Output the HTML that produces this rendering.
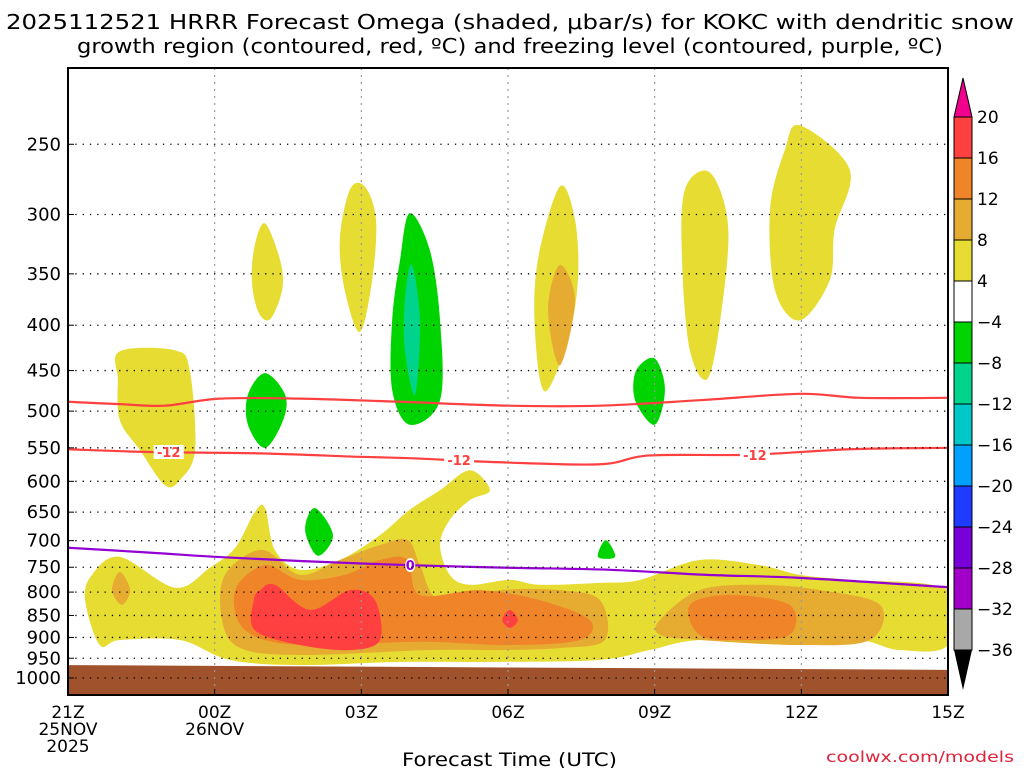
<!DOCTYPE html>
<html><head><meta charset="utf-8">
<style>
body{margin:0;background:#fff;width:1024px;height:768px;overflow:hidden;font-family:"DejaVu Sans","Liberation Sans",sans-serif;}
svg text{font-family:"DejaVu Sans","Liberation Sans",sans-serif;}
</style></head>
<body>
<svg id="chart" width="1024" height="768" xmlns="http://www.w3.org/2000/svg">
<text x="6" y="29" textLength="1008" lengthAdjust="spacingAndGlyphs" font-size="20" fill="#000">2025112521 HRRR Forecast Omega (shaded, μbar/s) for KOKC with dendritic snow</text>
<text x="77" y="53" textLength="866" lengthAdjust="spacingAndGlyphs" font-size="20" fill="#000">growth region (contoured, red, ºC) and freezing level (contoured, purple, ºC)</text>
<g id="plot"></g>
<g id="cbar"></g>
<text x="402" y="766" textLength="215" lengthAdjust="spacingAndGlyphs" font-size="19" fill="#000">Forecast Time (UTC)</text>
<text x="826" y="762" textLength="188" lengthAdjust="spacingAndGlyphs" font-size="15" fill="#e0223a">coolwx.com/models</text>
</svg>
<script>
const hourTicks=[0,3,6,9,12,15,18];
const hourLabels=[["21Z","25NOV","2025"],["00Z","26NOV"],["03Z"],["06Z"],["09Z"],["12Z"],["15Z"]];
const pTicks=[250,300,350,400,450,500,550,600,650,700,750,800,850,900,950,1000];
const cbLevels=["20","16","12","8","4","−4","−8","−12","−16","−20","−24","−28","−32","−36"];
const cbColors=["#ff4040","#f08428","#e6ac32","#e6dc32","#ffffff","#00d400","#00d48c","#00c8c8","#00a0ff","#1e3cff","#7800d8","#a000c8","#a8a8a8"];
const ground=[[0,967],[18,979]];
const yellowMain=[[0.49,765],[1.06,730],[2.19,791],[2.9,751],[3.42,713],[3.82,650],[4.03,643],[4.23,717],[4.74,755],[5.56,736],[6.38,690],[6.99,646],[7.61,614],[8.22,583],[8.63,614],[8.22,630],[7.81,663],[7.61,708],[7.81,765],[8.22,785],[9.04,775],[9.65,785],[10.88,781],[11.7,775],[12.92,736],[14.15,746],[14.97,765],[15.99,775],[18,796],[18,918],[17.01,930],[16.2,906],[14.97,906],[12.92,906],[11.9,930],[10.88,954],[8.83,959],[6.79,959],[4.74,967],[3.31,954],[2.29,906],[1.06,906],[0.65,918],[0.35,817]];
const yellowLeft=[[1.06,428],[2.19,427],[2.49,450],[2.6,553],[2.29,598],[1.98,606],[1.47,553],[1.06,512],[1.02,461]];
const yellowA=[[4.03,307],[4.34,338],[4.38,365],[4.13,394],[3.89,386],[3.76,356],[3.82,325]];
const yellowB=[[5.77,281],[6.07,279],[6.3,304],[6.22,356],[5.97,407],[5.66,365],[5.56,320]];
const yellowC=[[10.06,279],[10.37,304],[10.43,356],[10.22,416],[9.75,475],[9.55,405],[9.61,338]];
const goldC=[[10.06,342],[10.37,375],[10.06,444],[9.82,384]];
const yellowD=[[13.13,269],[13.5,308],[13.37,384],[13.09,459],[12.72,427],[12.56,338],[12.62,281]];
const yellowE=[[14.97,238],[15.99,267],[15.68,312],[15.58,356],[14.97,395],[14.46,365],[14.36,296],[14.66,254]];
const greenA=[[6.99,299],[7.4,329],[7.61,395],[7.61,486],[6.99,518],[6.63,473],[6.63,395],[6.79,338]];
const tealA=[[7.03,342],[7.2,395],[7.1,479],[6.89,427],[6.89,375]];
const greenB=[[4.03,453],[4.44,479],[4.4,512],[4.03,550],[3.68,518],[3.68,479]];
const greenC=[[12.0,436],[12.21,473],[12.0,518],[11.6,486],[11.62,450]];
const greenD=[[5.05,643],[5.42,690],[5.11,728],[4.85,681]];
const greenE=[[11.0,699],[11.19,730],[10.84,730]];
const goldLeft=[[1.06,759],[1.27,796],[1.1,827],[0.9,796]];
const goldMain=[[3.21,765],[3.97,717],[4.74,765],[5.56,736],[6.38,708],[6.95,699],[7.2,746],[7.61,817],[8.83,796],[10.06,796],[10.88,817],[10.98,906],[10.06,925],[8.83,930],[7.4,930],[4.74,942],[3.52,925],[3.15,860]];
const goldRight=[[12.11,860],[12.92,796],[14.15,785],[15.38,796],[16.61,827],[16.4,906],[14.97,918],[12.92,906],[12.11,894]];
const orangeMain=[[3.42,796],[4.03,746],[4.74,775],[5.66,765],[6.38,736],[6.95,736],[7.2,806],[8.43,796],[9.65,817],[10.67,860],[10.47,906],[9.04,918],[7.2,910],[4.74,918],[3.62,883]];
const orangeRight=[[12.72,827],[13.54,806],[14.76,827],[14.76,894],[13.74,906],[12.92,894]];
const redMain=[[3.93,796],[4.23,785],[4.95,838],[5.77,796],[6.28,817],[6.38,906],[5.77,930],[4.74,918],[3.82,883],[3.8,817]];
const redDiamond=[[9.04,838],[9.2,860],[9.04,878],[8.88,860]];
const dgzTopHours=[0,1.06,1.98,3.1,4.74,6.79,9.04,10.88,12.92,14.97,16.2,18];
const dgzTopP=[488,491,493,484,484,488,493,493,486,478,483,483];
const dgzBotHours=[0,1.67,3.93,5.97,7.0,8.83,10.88,11.9,13.95,15.99,18];
const dgzBotP=[552,556,558,563,565,571,574,561,560,552,550];
const frzHours=[0,1.67,3,4.74,7.0,9.04,11.09,13.05,14.97,18];
const frzP=[713,722,730,738,746,751,755,765,771,790];

const X0=68,X1=948,Y0=68,Y1=695;
const xs=h=>X0+(X1-X0)*h/18;
const ys=p=>678+385*Math.log(p/1000);
const NS="http://www.w3.org/2000/svg";
const plot=document.getElementById('plot');
function mk(tag,attrs,parent){const e=document.createElementNS(NS,tag);for(const k in attrs)e.setAttribute(k,attrs[k]);(parent||plot).appendChild(e);return e;}
function smooth(pts){const P=pts.map(q=>[xs(q[0]),ys(q[1])]);const n=P.length;let d=`M${P[0][0]},${P[0][1]}`;
for(let i=0;i<n;i++){const p0=P[(i-1+n)%n],p1=P[i],p2=P[(i+1)%n],p3=P[(i+2)%n];
d+=`C${p1[0]+(p2[0]-p0[0])/6},${p1[1]+(p2[1]-p0[1])/6} ${p2[0]-(p3[0]-p1[0])/6},${p2[1]-(p3[1]-p1[1])/6} ${p2[0]},${p2[1]}`;}return d+'Z';}
function smoothOpen(P){const n=P.length;let d=`M${P[0][0]},${P[0][1]}`;
for(let i=0;i<n-1;i++){const p0=P[Math.max(i-1,0)],p1=P[i],p2=P[i+1],p3=P[Math.min(i+2,n-1)];
d+=`C${p1[0]+(p2[0]-p0[0])/6},${p1[1]+(p2[1]-p0[1])/6} ${p2[0]-(p3[0]-p1[0])/6},${p2[1]-(p3[1]-p1[1])/6} ${p2[0]},${p2[1]}`;}return d;}
const clip=mk('clipPath',{id:'pc'});mk('rect',{x:X0,y:Y0,width:X1-X0,height:Y1-Y0},clip);
const g=mk('g',{'clip-path':'url(#pc)'});
function blobG(pts,color,name){const e=mk('path',{d:smooth(pts),fill:color},g);

}
[[yellowMain,'#e6dc32','omega-4-8-lower'],[yellowLeft,'#e6dc32','omega-4-8-left'],[yellowA,'#e6dc32','omega-4-8-a'],[yellowB,'#e6dc32','omega-4-8-b'],[yellowC,'#e6dc32','omega-4-8-c'],[yellowD,'#e6dc32','omega-4-8-d'],[yellowE,'#e6dc32','omega-4-8-e'],
[goldC,'#e6ac32','omega-8-12-c'],[goldLeft,'#e6ac32','omega-8-12-left'],[goldMain,'#e6ac32','omega-8-12-main'],[goldRight,'#e6ac32','omega-8-12-right'],
[orangeMain,'#f08428','omega-12-16-main'],[orangeRight,'#f08428','omega-12-16-right'],[redMain,'#ff4040','omega-16-20-main'],[redDiamond,'#ff4040','omega-16-20-small'],
[greenA,'#00d400','omega-neg4-a'],[tealA,'#00d48c','omega-neg8-a'],[greenB,'#00d400','omega-neg4-b'],[greenC,'#00d400','omega-neg4-c'],[greenD,'#00d400','omega-neg4-d'],[greenE,'#00d400','omega-neg4-e']
].forEach(b=>blobG(b[0],b[1],b[2]));
const gr=mk('path',{d:`M${xs(ground[0][0])},${ys(ground[0][1])}L${xs(ground[1][0])},${ys(ground[1][1])}L${X1},${Y1}L${X0},${Y1}Z`,fill:'#a0522d'},g);


pTicks.forEach(p=>{const l=mk('line',{x1:X0,x2:X1,y1:ys(p),y2:ys(p),stroke:'#000','stroke-width':1.3,'stroke-dasharray':'1.3 6'});


const t=mk('text',{x:61,y:ys(p)+6,'text-anchor':'end','font-size':18,fill:'#000'});t.textContent=p;


mk('line',{x1:X0,x2:X0+6,y1:ys(p),y2:ys(p),stroke:'#000'});});
hourTicks.forEach((h,i)=>{if(h>0&&h<18){const l=mk('line',{x1:xs(h),x2:xs(h),y1:Y0,y2:Y1,stroke:'#999','stroke-width':1.2,'stroke-dasharray':'2 5'});

}
mk('line',{x1:xs(h),x2:xs(h),y1:Y1-6,y2:Y1,stroke:'#000'});
hourLabels[i].forEach((s,j)=>{const t=mk('text',{x:xs(h),y:718+j*17,'text-anchor':'middle','font-size':17,fill:'#000'});t.textContent=s;

});});
function line(H,P,color,name){const pts=H.map((h,i)=>[xs(h),ys(P[i])]);
const e=mk('path',{d:smoothOpen(pts),fill:'none',stroke:color,'stroke-width':2.2},g);

}
line(dgzTopHours,dgzTopP,'#ff4040','dgz-upper-contour');
line(dgzBotHours,dgzBotP,'#ff4040','dgz-lower-contour');
line(frzHours,frzP,'#9400d3','freezing-level-contour');
function clabel(h,p,txt,color,name){mk('rect',{x:xs(h)-15,y:ys(p)-7,width:30,height:14,fill:'#fff'},g);
const t=mk('text',{x:xs(h),y:ys(p)+5,'text-anchor':'middle','font-size':13,'font-weight':'bold',fill:color},g);t.textContent=txt;

}
clabel(2.06,556,'-12','#ff4040','dgz-label-1');clabel(8.0,568,'-12','#ff4040','dgz-label-2');clabel(14.05,560,'-12','#ff4040','dgz-label-3');
const fl=mk('ellipse',{cx:xs(7.0),cy:ys(746),rx:5,ry:7,fill:'#fff'},g);
clabel2();
function clabel2(){const t=mk('text',{x:xs(7.0),y:ys(746)+5,'text-anchor':'middle','font-size':13,'font-weight':'bold',fill:'#9400d3'},g);t.textContent='0';

}
const fr=mk('rect',{x:X0,y:Y0,width:X1-X0,height:Y1-Y0,fill:'none',stroke:'#000','stroke-width':2});


const cb=document.getElementById('cbar');const cx=954,cw=18,ct=117,bh=41;
mk('path',{d:`M${cx},${ct}L${cx+cw/2},78L${cx+cw},${ct}Z`,fill:'#f0008c',stroke:'#000'},cb);
cbColors.forEach((c,i)=>{const r=mk('rect',{x:cx,y:ct+i*bh,width:cw,height:bh,fill:c,stroke:'#000'},cb);

});
const cbBot=ct+cbColors.length*bh;
mk('path',{d:`M${cx},${cbBot}L${cx+cw/2},${cbBot+40}L${cx+cw},${cbBot}Z`,fill:'#000'},cb);
cbLevels.forEach((s,i)=>{const t=mk('text',{x:977,y:ct+i*bh+6,'font-size':17,fill:'#000'},cb);t.textContent=s;

});
</script>
</body></html>
